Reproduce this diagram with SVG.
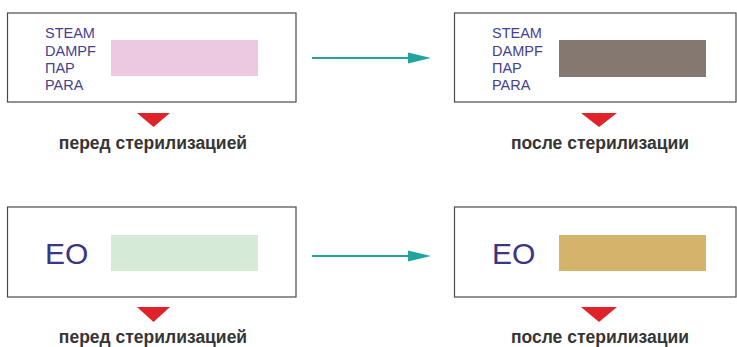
<svg xmlns="http://www.w3.org/2000/svg" width="737" height="347" viewBox="0 0 737 347">
<style>
.box{fill:#fff;stroke:#4a4a4a;stroke-width:1.2}
.lbl{font-family:"Liberation Sans",Arial,sans-serif;font-size:14.5px;fill:#463f8f}
.eo{font-family:"Liberation Sans",Arial,sans-serif;font-size:30px;fill:#3a3585}
.cap{font-family:"Liberation Sans",Arial,sans-serif;font-size:17.5px;font-weight:bold;fill:#353535;text-anchor:middle}
.tri{fill:#e0232b}
.conn{stroke:#22a39d;stroke-width:2.2;fill:none}
.head{fill:#22a39d}
</style>
<g id="connectors">
<line class="conn" x1="312" y1="58" x2="420" y2="58"/>
<path class="head" d="M408,52.5 L431,58 L408,63.5 Z"/>
<line class="conn" x1="312" y1="256" x2="420" y2="256"/>
<path class="head" d="M408,250.5 L431,256 L408,261.5 Z"/>
</g>
<g id="steam-before">
<rect class="box" x="7.5" y="13" width="288.5" height="89"/>
<text class="lbl" x="45" y="38">STEAM</text>
<text class="lbl" x="45" y="56">DAMPF</text>
<text class="lbl" x="45" y="73">ПАР</text>
<text class="lbl" x="45" y="90">PARA</text>
<rect x="111" y="40" width="147" height="36" fill="#edc9e1"/>
<path class="tri" d="M137,113 L170,113 L153.5,127 Z"/>
<text class="cap" x="153" y="149">перед стерилизацией</text>
</g>
<g id="steam-after">
<rect class="box" x="454.5" y="13" width="281.5" height="89"/>
<text class="lbl" x="492" y="38">STEAM</text>
<text class="lbl" x="492" y="56">DAMPF</text>
<text class="lbl" x="492" y="73">ПАР</text>
<text class="lbl" x="492" y="90">PARA</text>
<rect x="559" y="40" width="147" height="37" fill="#847870"/>
<path class="tri" d="M581,113 L617,113 L599,127 Z"/>
<text class="cap" x="600" y="149">после стерилизации</text>
</g>
<g id="eo-before">
<rect class="box" x="7.5" y="207" width="288.5" height="90"/>
<text class="eo" x="45" y="264">EO</text>
<rect x="111" y="235" width="147" height="36" fill="#d5ead7"/>
<path class="tri" d="M137,307 L170,307 L153.5,322 Z"/>
<text class="cap" x="153" y="343">перед стерилизацией</text>
</g>
<g id="eo-after">
<rect class="box" x="454.5" y="207" width="281.5" height="90"/>
<text class="eo" x="492" y="264">EO</text>
<rect x="559" y="235" width="147" height="36" fill="#d4b36b"/>
<path class="tri" d="M581,307 L617,307 L599,322 Z"/>
<text class="cap" x="600" y="343">после стерилизации</text>
</g>
</svg>
